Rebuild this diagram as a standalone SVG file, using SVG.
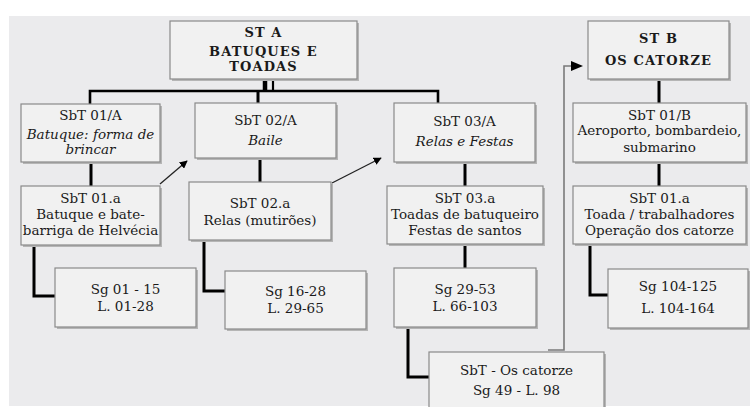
<svg xmlns="http://www.w3.org/2000/svg" width="750" height="407" viewBox="0 0 750 407">
<style>
.bx{fill:#f1f1f1;stroke:#8a8a8a;stroke-width:1.2}
.sh{fill:#b5b5b5}
.t{font-family:"DejaVu Serif","Liberation Serif",serif;font-size:13.5px;fill:#1a1a1a;text-anchor:middle}
.i{font-style:italic}
.b{font-weight:bold;font-size:13px;letter-spacing:1.1px}
.c{fill:none;stroke:#000;stroke-width:3}
.g{fill:none;stroke:#7a7a7a;stroke-width:1.6}
.a{fill:none;stroke:#222;stroke-width:1.3}
</style>
<defs>
<marker id="ah" viewBox="0 0 10 10" refX="9" refY="5" markerWidth="8" markerHeight="8" markerUnits="userSpaceOnUse" orient="auto"><path d="M0,0 L10,5 L0,10 z" fill="#000"/></marker>
</defs>
<rect x="0" y="0" width="750" height="407" fill="#fff"/>
<rect x="9" y="16" width="741" height="390" fill="#ebebed"/>

<g id="connectors">
<line class="c" x1="265" y1="79" x2="265" y2="91" style="stroke-width:4.5"/>
<line class="c" x1="273" y1="79" x2="273" y2="91" style="stroke-width:2.2"/>
<polyline class="c" points="90,104 90,91 438,91 438,103" style="stroke-width:2.6"/>
<line class="c" x1="258" y1="91" x2="258" y2="103"/>
<line class="c" x1="91" y1="162" x2="91" y2="186"/>
<line class="c" x1="260" y1="158" x2="260" y2="182"/>
<line class="c" x1="465" y1="162" x2="465" y2="186"/>
<line class="c" x1="659" y1="79" x2="659" y2="103"/>
<line class="c" x1="659" y1="162" x2="659" y2="186"/>
<line class="c" x1="465" y1="244" x2="465" y2="268"/>
<polyline class="c" points="34,245 34,296 55,296"/>
<polyline class="c" points="204,240 204,291 225,291"/>
<polyline class="c" points="590,244 590,295 608,295"/>
<polyline class="c" points="408,327 408,377 429,377"/>
<polyline class="g" points="548,350 564,350 564,66 572,66"/>
<path d="M571,61 L583,66 L571,71 z" fill="#000"/>
<line class="a" x1="160" y1="184" x2="187" y2="161" marker-end="url(#ah)"/>
<line class="a" x1="332" y1="183" x2="381" y2="158" marker-end="url(#ah)"/>
</g>

<g id="stA">
<rect class="sh" x="172" y="23" width="187" height="58"/>
<rect class="bx" x="170" y="21" width="187" height="58"/>
<text class="t b" x="263.5" y="37">ST A</text>
<text class="t b" x="263.5" y="56">BATUQUES E</text>
<text class="t b" x="263.5" y="71">TOADAS</text>
</g>

<g id="stB">
<rect class="sh" x="590" y="23" width="141" height="58"/>
<rect class="bx" x="588" y="21" width="141" height="58"/>
<text class="t b" x="658.5" y="43">ST B</text>
<text class="t b" x="658.5" y="65">OS CATORZE</text>
</g>

<g id="sbt01A">
<rect class="sh" x="23" y="106" width="139" height="58"/>
<rect class="bx" x="21" y="104" width="139" height="58"/>
<text class="t" x="90.5" y="120">SbT 01/A</text>
<text class="t i" x="90.5" y="139">Batuque: forma de</text>
<text class="t i" x="90.5" y="154">brincar</text>
</g>

<g id="sbt02A">
<rect class="sh" x="197" y="105" width="141" height="55"/>
<rect class="bx" x="195" y="103" width="141" height="55"/>
<text class="t" x="265.5" y="125">SbT 02/A</text>
<text class="t i" x="265.5" y="145">Baile</text>
</g>

<g id="sbt03A">
<rect class="sh" x="396" y="105" width="141" height="59"/>
<rect class="bx" x="394" y="103" width="141" height="59"/>
<text class="t" x="464.5" y="126">SbT 03/A</text>
<text class="t i" x="464.5" y="146">Relas e Festas</text>
</g>

<g id="sbt01B">
<rect class="sh" x="575" y="105" width="173" height="59"/>
<rect class="bx" x="573" y="103" width="173" height="59"/>
<text class="t" x="659.5" y="120">SbT 01/B</text>
<text class="t" x="659.5" y="135">Aeroporto, bombardeio,</text>
<text class="t" x="659.5" y="152">submarino</text>
</g>

<g id="sbt01a">
<rect class="sh" x="23" y="188" width="139" height="59"/>
<rect class="bx" x="21" y="186" width="139" height="59"/>
<text class="t" x="90.5" y="203">SbT 01.a</text>
<text class="t" x="90.5" y="219">Batuque e bate-</text>
<text class="t" x="90.5" y="235">barriga de Helvécia</text>
</g>

<g id="sbt02a">
<rect class="sh" x="191" y="184" width="142" height="58"/>
<rect class="bx" x="189" y="182" width="142" height="58"/>
<text class="t" x="260" y="208">SbT 02.a</text>
<text class="t" x="260" y="225">Relas (mutirões)</text>
</g>

<g id="sbt03a">
<rect class="sh" x="389" y="188" width="156" height="58"/>
<rect class="bx" x="387" y="186" width="156" height="58"/>
<text class="t" x="465" y="203">SbT 03.a</text>
<text class="t" x="465" y="219">Toadas de batuqueiro</text>
<text class="t" x="465" y="235">Festas de santos</text>
</g>

<g id="sbt01aB">
<rect class="sh" x="575" y="188" width="173" height="58"/>
<rect class="bx" x="573" y="186" width="173" height="58"/>
<text class="t" x="659.5" y="203">SbT 01.a</text>
<text class="t" x="659.5" y="219">Toada / trabalhadores</text>
<text class="t" x="659.5" y="235">Operação dos catorze</text>
</g>

<g id="sg01">
<rect class="sh" x="57" y="270" width="141" height="59"/>
<rect class="bx" x="55" y="268" width="141" height="59"/>
<text class="t" x="125.5" y="294">Sg 01 - 15</text>
<text class="t" x="125.5" y="311">L. 01-28</text>
</g>

<g id="sg16">
<rect class="sh" x="227" y="273" width="141" height="58"/>
<rect class="bx" x="225" y="271" width="141" height="58"/>
<text class="t" x="295.5" y="296">Sg 16-28</text>
<text class="t" x="295.5" y="313">L. 29-65</text>
</g>

<g id="sg29">
<rect class="sh" x="396" y="270" width="142" height="59"/>
<rect class="bx" x="394" y="268" width="142" height="59"/>
<text class="t" x="465" y="294">Sg 29-53</text>
<text class="t" x="465" y="311">L. 66-103</text>
</g>

<g id="sg104">
<rect class="sh" x="610" y="271" width="140" height="59"/>
<rect class="bx" x="608" y="269" width="140" height="59"/>
<text class="t" x="678" y="291">Sg 104-125</text>
<text class="t" x="678" y="313">L. 104-164</text>
</g>

<g id="sbtCatorze">
<rect class="sh" x="431" y="354" width="175" height="60"/>
<rect class="bx" x="429" y="352" width="175" height="60"/>
<text class="t" x="516.5" y="375">SbT - Os catorze</text>
<text class="t" x="516.5" y="395">Sg 49 - L. 98</text>
</g>
</svg>
